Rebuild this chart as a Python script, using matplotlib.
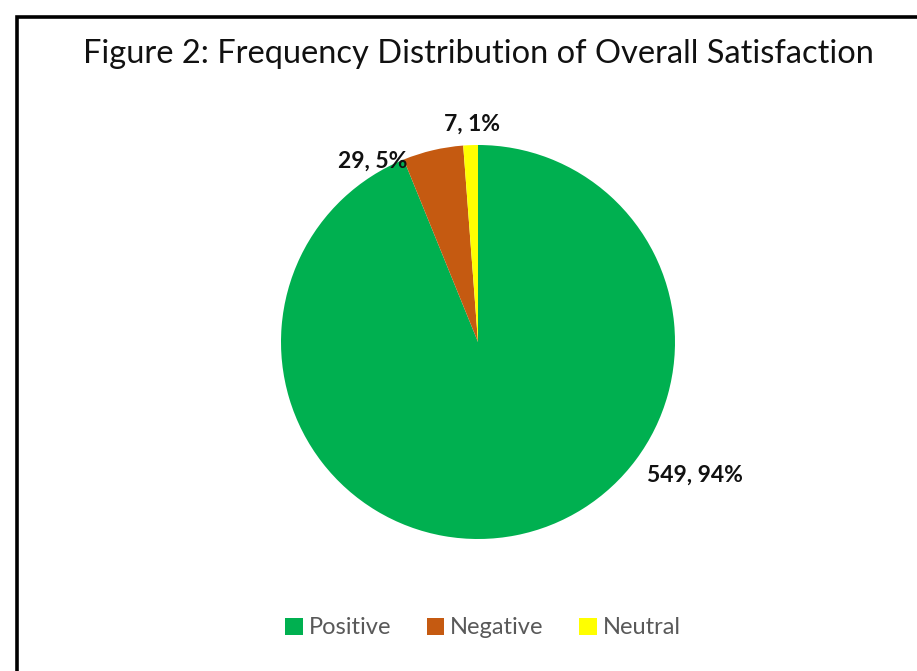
import matplotlib.pyplot as plt
from matplotlib.patches import Rectangle, Patch

# data
categories = ["Positive", "Negative", "Neutral"]
counts = [549, 29, 7]
colors = ["#00B050", "#C55A11", "#FFFF00"]

total = sum(counts)
pcts = [round(c / total * 100) for c in counts]
labels = [f"{c}, {p}%" for c, p in zip(counts, pcts)]

plt.rcParams['font.family'] = ['Lato', 'DejaVu Sans']

fig = plt.figure(figsize=(9.17, 6.71), dpi=100)
fig.patch.set_facecolor("white")

# chart frame (right and bottom run off the picture)
fig.patches.append(Rectangle((17 / 917, -0.1), 1.0, 1 - 17 / 671 + 0.1,
                             transform=fig.transFigure, fill=False,
                             edgecolor="black", linewidth=2.6))

fig.text(478 / 917, 1 - 54 / 671, "Figure 2: Frequency Distribution of Overall Satisfaction",
         ha="center", va="center", fontsize=23.5, color="#111111")

R = 197
cx, cy = 478, 342
ax = fig.add_axes([(cx - R) / 917, 1 - (cy + R) / 671, 2 * R / 917, 2 * R / 671])
wedges, _ = ax.pie(counts, colors=colors, startangle=90, counterclock=False,
                   wedgeprops=dict(linewidth=0))
ax.set_xlim(-1, 1)
ax.set_ylim(-1, 1)
ax.set_aspect("equal")
ax.axis("off")

label_pos = [(1.1, -0.675), (-0.535, 0.92), (-0.03, 1.105)]
for txt, (x, y) in zip(labels, label_pos):
    ax.text(x, y, txt, ha="center", va="center", fontsize=16.5,
            fontweight="bold", color="#111111", clip_on=False)

handles = [Patch(facecolor=c, edgecolor="none") for c in colors]
fig.legend(handles, categories, loc="center", bbox_to_anchor=(483 / 917, 1 - 628 / 671),
           ncol=3, frameon=False, fontsize=17, labelcolor="#595959",
           handlelength=0.75, handleheight=0.75, handletextpad=0.25, columnspacing=1.5)

fig.savefig("out.png", dpi=100, facecolor="white")
